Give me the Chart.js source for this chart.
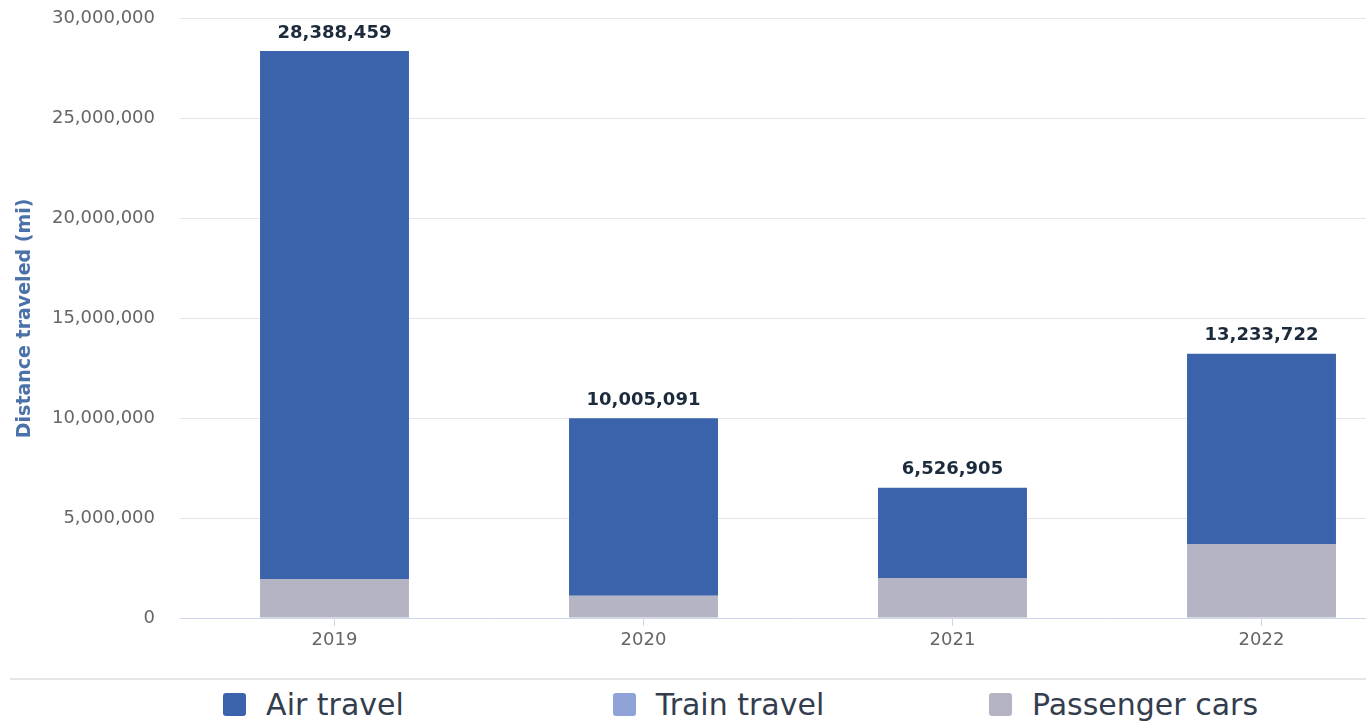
<!DOCTYPE html>
<html>
<head>
<meta charset="utf-8">
<script src="https://cdn.jsdelivr.net/npm/chart.js@4"></script>
<style>
  html, body { margin: 0; padding: 0; background: #fff; overflow: hidden; }
  #wrap { position: relative; width: 1366px; height: 723px; overflow: hidden; }
  #travelChart { position: absolute; left: 0; top: -17px; }
  #sep { position: absolute; left: 10px; top: 678px; width: 1440px; height: 2px; background: #e6e6e6; }
  #legend { position: absolute; left: 111px; top: 686px; display: flex; font-family: "DejaVu Sans", sans-serif; }
  #legend .item { width: 405px; display: flex; justify-content: center; align-items: center; font-size: 30px; color: #333d4d; height: 36px; }
  #legend .box { width: 23px; height: 23px; border-radius: 3px; margin-right: 20px; }
</style>
</head>
<body>
<div id="wrap">
  <canvas id="travelChart" width="1440" height="689"></canvas>
  <div id="sep"></div>
  <div id="legend"></div>
</div>
<script>
// years and miles per mode of transport
var years = ["2019", "2020", "2021", "2022"];
var airTravel = [26438459, 8885091, 4526905, 9533722];
var trainTravel = [0, 0, 0, 0];
var passengerCars = [1950000, 1120000, 2000000, 3700000];
var yTicks = [0, 5000000, 10000000, 15000000, 20000000, 25000000, 30000000];

var fmt = function (v) { return Number(v).toLocaleString('en-US'); };

// total above each stack
var totalLabels = {
    id: 'totalLabels',
    afterDatasetsDraw: function (chart) {
        var ctx = chart.ctx;
        ctx.save();
        ctx.font = 'bold 18px "DejaVu Sans"';
        ctx.fillStyle = '#1c2b3c';
        ctx.textAlign = 'center';
        ctx.textBaseline = 'bottom';
        chart.data.labels.forEach(function (lbl, i) {
            var total = 0;
            chart.data.datasets.forEach(function (ds) { total += ds.data[i]; });
            var x = chart.scales.x.getPixelForValue(i);
            var y = chart.scales.y.getPixelForValue(total);
            ctx.fillText(fmt(total), x, y - 9);
        });
        ctx.restore();
    }
};

// stacked bottom-up: cars, train, air
var barData = {
    labels: years,
    datasets: [
        { label: "Passenger cars", backgroundColor: '#b5b4c4', data: passengerCars },
        { label: "Train travel", backgroundColor: '#8fa3d8', data: trainTravel },
        { label: "Air travel", backgroundColor: '#3a63ab', data: airTravel }
    ]
};

var barOptions = {
    responsive: false,
    animation: false,
    layout: { autoPadding: false, padding: { top: 18, right: 24, bottom: 0, left: 0 } },
    datasets: { bar: { barPercentage: 0.482, categoryPercentage: 1, borderWidth: 0 } },
    plugins: { legend: { display: false }, tooltip: { enabled: false } },
    scales: {
        x: {
            stacked: true,
            border: { color: '#ccd6eb', width: 1 },
            grid: { offset: false, drawOnChartArea: false, drawTicks: true, tickLength: 8, color: '#ccd6eb' },
            ticks: { color: '#666', font: { family: 'DejaVu Sans', size: 18 }, padding: 4 },
            afterFit: function (scale) { scale.height = 54; }
        },
        y: {
            stacked: true,
            min: 0,
            max: 30000000,
            border: { display: false },
            grid: { color: '#e6e6e6', drawTicks: false },
            afterBuildTicks: function (scale) {
                scale.ticks = yTicks.map(function (v) { return { value: v }; });
            },
            ticks: {
                color: '#666',
                font: { family: 'DejaVu Sans', size: 18 },
                padding: 25,
                callback: function (v) { return fmt(v); }
            },
            title: {
                display: true,
                text: 'Distance traveled (mi)',
                color: '#4a72a8',
                font: { family: 'DejaVu Sans', size: 19, weight: 'bold' },
                padding: { top: 14, bottom: 0 }
            },
            afterFit: function (scale) { scale.width = 180; }
        }
    }
};

var ctx2 = document.getElementById("travelChart").getContext("2d");
var chart = new Chart(ctx2, { type: 'bar', data: barData, options: barOptions, plugins: [totalLabels] });

// legend in three columns below the chart, air first
var legend = document.getElementById('legend');
chart.data.datasets.slice().reverse().forEach(function (ds) {
    var item = document.createElement('div');
    item.className = 'item';
    var box = document.createElement('span');
    box.className = 'box';
    box.style.background = ds.backgroundColor;
    item.appendChild(box);
    item.appendChild(document.createTextNode(ds.label));
    legend.appendChild(item);
});
</script>
</body>
</html>
